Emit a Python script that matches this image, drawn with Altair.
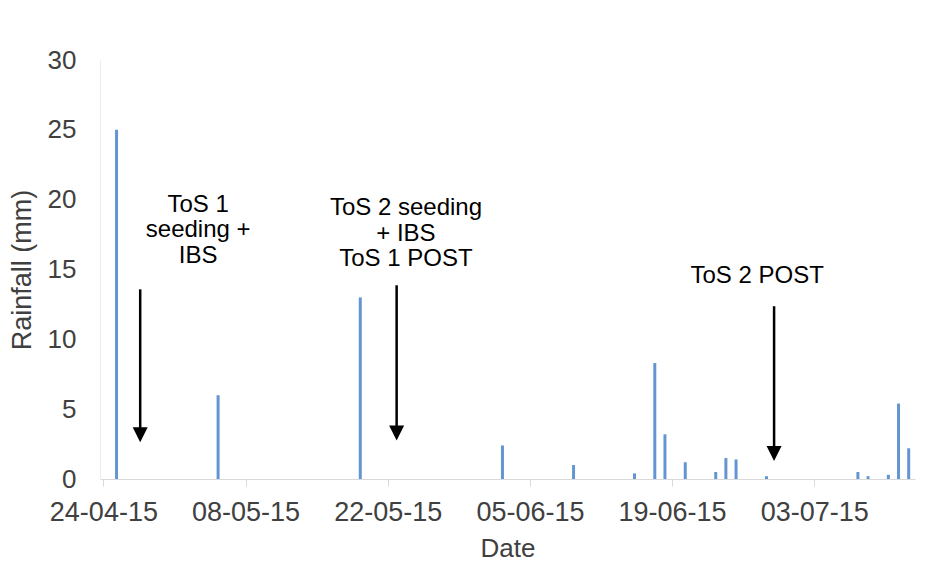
import altair as alt
import pandas as pd

# Rainfall data
rain_dates = ["2015-04-25", "2015-05-05", "2015-05-19", "2015-06-02", "2015-06-09",
              "2015-06-15", "2015-06-17", "2015-06-18", "2015-06-20", "2015-06-23",
              "2015-06-24", "2015-06-25", "2015-06-28", "2015-07-07", "2015-07-08",
              "2015-07-10", "2015-07-11", "2015-07-12"]
rain_mm = [25, 6, 13, 2.4, 1.0, 0.4, 8.3, 3.2, 1.2, 0.5, 1.5, 1.4, 0.2, 0.5, 0.2, 0.3, 5.4, 2.2]

# Axis tick labels
x_tick_dates = ["2015-04-24", "2015-05-08", "2015-05-22", "2015-06-05", "2015-06-19", "2015-07-03"]
y_ticks = [0, 5, 10, 15, 20, 25, 30]

# Annotations (data coordinates)
note_texts = ["ToS 1\nseeding +\nIBS", "ToS 2 seeding\n+ IBS\nToS 1 POST", "ToS 2 POST"]
note_dates = ["2015-05-03T08:00:00Z", "2015-05-23T19:00:00Z", "2015-06-27T09:00:00Z"]
note_y = [19.13, 18.89, 14.0]

arrow_dates = ["2015-04-27T15:00:00Z", "2015-05-22T21:00:00Z", "2015-06-29T01:00:00Z"]
arrow_top = [13.58, 13.87, 12.37]
arrow_tip = [2.64, 2.76, 1.28]


def dt(s, h=0):
    y, m, d = [int(p) for p in s.split("-")]
    return alt.DateTime(year=y, month=m, date=d, hours=h, utc=True)


rain = pd.DataFrame({"date": rain_dates, "mm": rain_mm})
notes = pd.DataFrame({"date": note_dates, "y": note_y, "text": note_texts})
arrows = pd.DataFrame({"date": arrow_dates, "top": arrow_top, "tip": arrow_tip})

FONT = "Liberation Sans"
TXT = "#404040"

xscale = alt.Scale(type="utc", nice=False, padding=0,
                   domain=[dt("2015-04-23", 16), dt("2015-07-12", 22)])
yscale = alt.Scale(domain=[0, 30], nice=False, padding=0)

x_axis = alt.Axis(
    title="Date", values=[dt(s) for s in x_tick_dates],
    labelExpr="utcFormat(datum.value, '%d-%m-%y')",
    grid=False, domainColor="#D9D9D9", tickColor="#D9D9D9", tickSize=7,
    labelPadding=13, labelFontSize=27, labelColor=TXT, labelFlush=False, labelOverlap=False,
    titleFontSize=26, titleFontWeight="normal", titleColor=TXT, titlePadding=10,
)
y_axis = alt.Axis(
    title="Rainfall (mm)", values=y_ticks, grid=False, domainColor="#ECECEC", ticks=False,
    tickSize=0, labelPadding=24, labelFontSize=26, labelColor=TXT,
    titleFontSize=27, titleFontWeight="normal", titleColor=TXT, titlePadding=11,
)

bars = alt.Chart(rain).mark_bar(width=3, xOffset=3, color="#6495D3").encode(
    x=alt.X("date:T", scale=xscale, axis=x_axis),
    y=alt.Y("mm:Q", scale=yscale, axis=y_axis),
)

shafts = alt.Chart(arrows).mark_rule(color="black", strokeWidth=2.5, y2Offset=-8).encode(
    x=alt.X("date:T", scale=xscale),
    y=alt.Y("top:Q", scale=yscale),
    y2="tip:Q",
)

heads = alt.Chart(arrows).mark_point(
    shape="M-1,-1L1,-1L0,1Z", size=225, filled=True, color="black", opacity=1, yOffset=-7.5
).encode(
    x=alt.X("date:T", scale=xscale),
    y=alt.Y("tip:Q", scale=yscale),
)

labels = alt.Chart(notes).mark_text(
    lineBreak="\n", lineHeight=25.5, fontSize=24, align="center", baseline="alphabetic",
    color="black", font=FONT,
).encode(
    x=alt.X("date:T", scale=xscale),
    y=alt.Y("y:Q", scale=yscale),
    text="text:N",
)

chart = alt.layer(bars, shafts, heads, labels).properties(
    width=815, height=419,
    autosize=alt.AutoSizeParams(type="none"),
    padding={"left": 92, "top": 52, "right": 8, "bottom": 82},
    background="white",
).configure(font=FONT).configure_view(stroke=None)

chart.save("out.html", embed_options={"renderer": "svg", "actions": False})
